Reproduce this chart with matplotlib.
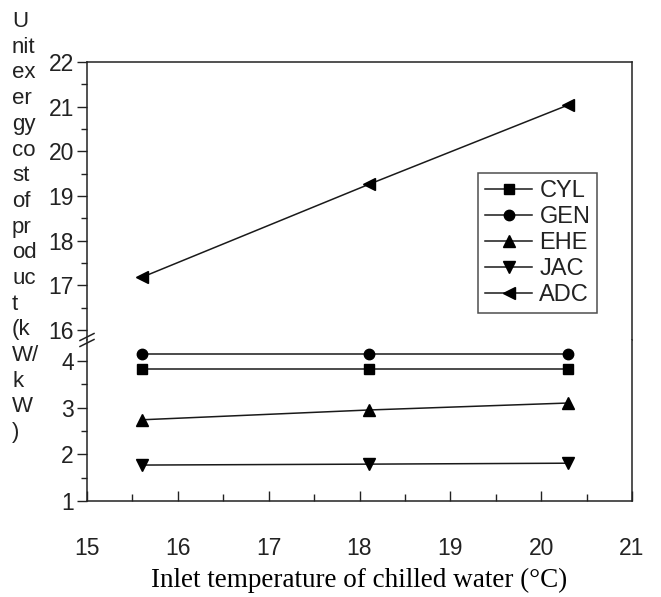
import matplotlib
matplotlib.use("Agg")
import matplotlib.pyplot as plt
from matplotlib.lines import Line2D
from matplotlib.ticker import MultipleLocator

# ---- data ----
temps = [15.6, 18.1, 20.3]
series_names = ["CYL", "GEN", "EHE", "JAC", "ADC"]
cyl = [3.82, 3.82, 3.82]
gen = [4.14, 4.14, 4.14]
ehe = [2.74, 2.95, 3.10]
jac = [1.77, 1.79, 1.81]
adc = [17.18, 19.26, 21.04]
x_ticks = [15, 16, 17, 18, 19, 20, 21]
upper_ticks = [16, 17, 18, 19, 20, 21, 22]
lower_ticks = [1, 2, 3, 4]
ylabel_lines = ["U", "nit", "ex", "er", "gy", "co", "st", "of", "pr", "od",
                "uc", "t", "(k", "W/", "k", "W", ")"]
xlabel = "Inlet temperature of chilled water (\u00b0C)"

W, H = 661, 597
fig = plt.figure(figsize=(W / 100, H / 100), dpi=100)
fig.patch.set_facecolor("white")

sans = ["Liberation Sans", "DejaVu Sans"]
serif = ["Liberation Serif", "DejaVu Serif"]
tcol = "#222222"
lcol = "#1a1a1a"
fs = 16.5

L, R = 87, 632
top_px, brk_px, bot_px = 62, 340, 501

def fy(p):
    return (H - p) / H

ax_top = fig.add_axes([L / W, fy(brk_px), (R - L) / W, fy(top_px) - fy(brk_px)])
ax_bot = fig.add_axes([L / W, fy(bot_px), (R - L) / W, fy(brk_px) - fy(bot_px)], sharex=ax_top)

styles = {
    "CYL": dict(marker="s", ms=7),
    "GEN": dict(marker="o", ms=7.5),
    "EHE": dict(marker="^", ms=8),
    "JAC": dict(marker="v", ms=8),
    "ADC": dict(marker="<", ms=8.5),
}
data = {"CYL": cyl, "GEN": gen, "EHE": ehe, "JAC": jac, "ADC": adc}

handles = []
for name in series_names:
    st = styles[name]
    ax = ax_top if name == "ADC" else ax_bot
    ax.plot(temps, data[name], color=lcol, lw=1.1, marker=st["marker"],
            ms=st["ms"], mfc="black", mec="black", clip_on=False)
    handles.append(Line2D([], [], color=lcol, lw=1.1, marker=st["marker"],
                          ms=st["ms"], mfc="black", mec="black"))

ax_top.set_xlim(15, 21)
ax_top.set_ylim(15.78, 22)
ax_bot.set_ylim(1, 4.45)

for ax in (ax_top, ax_bot):
    for s in ax.spines.values():
        s.set_color("#222222")
        s.set_linewidth(1.1)
ax_top.spines["bottom"].set_visible(False)
ax_bot.spines["top"].set_visible(False)

ax_top.set_yticks(upper_ticks)
ax_top.yaxis.set_minor_locator(MultipleLocator(0.5))
ax_bot.set_yticks(lower_ticks)
ax_bot.yaxis.set_minor_locator(MultipleLocator(0.5))
ax_bot.set_xticks(x_ticks)
ax_bot.xaxis.set_minor_locator(MultipleLocator(0.5))

ax_top.tick_params(axis="x", which="both", bottom=False, top=False, labelbottom=False)
for ax in (ax_top, ax_bot):
    ax.tick_params(axis="y", which="major", direction="out", length=7.5, width=1,
                   pad=2, labelsize=fs, labelcolor=tcol, color="#222222")
    ax.tick_params(axis="y", which="minor", direction="out", length=4.5, width=1,
                   color="#222222")
    for lab in ax.get_yticklabels():
        lab.set_family(sans)
ax_bot.tick_params(axis="x", which="major", direction="in", length=7, width=1,
                   pad=26, labelsize=fs, labelcolor=tcol, color="#222222")
ax_bot.tick_params(axis="x", which="minor", direction="in", length=5, width=1,
                   color="#222222")
for lab in ax_bot.get_xticklabels():
    lab.set_family(sans)

# break marks on left spine
for yc in (337, 343):
    x0, x1 = (L - 7) / W, (L + 7) / W
    y0, y1 = fy(yc + 3.5), fy(yc - 3.5)
    fig.add_artist(Line2D([x0, x1], [y0, y1], color="#222222", lw=1.1,
                          transform=fig.transFigure))

leg = ax_top.legend(handles, series_names, loc="upper left",
                    bbox_to_anchor=((478 - L) / (R - L), (brk_px - 173) / (brk_px - top_px)),
                    frameon=True, fancybox=False, edgecolor="#222222",
                    prop=dict(family=sans, size=17), labelcolor=tcol,
                    handlelength=2.0, handletextpad=0.3, borderpad=0.3,
                    labelspacing=0.17, numpoints=1, borderaxespad=0)
leg.get_frame().set_linewidth(1.1)

# vertical stacked y label
for i, t in enumerate(ylabel_lines):
    fig.text(12 / W, fy(21.5 + i * 25.7), t, ha="left", va="center",
             fontsize=fs - 0.5, family=sans, color=tcol)

fig.text(359 / W, fy(580), xlabel, ha="center", va="center",
         fontsize=19.5, family=serif, color="black")

fig.savefig("out.png", dpi=100, facecolor="white")
